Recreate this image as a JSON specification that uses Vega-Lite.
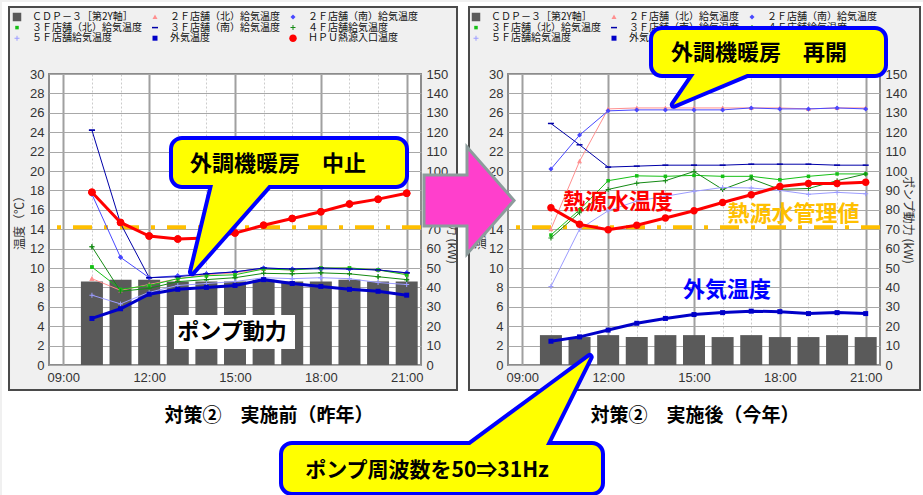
{
"$schema": "https://vega.github.io/schema/vega-lite/v6.json",
"padding": 0,
"background": "#f0f0f0",
"config": {
  "view": {"fill": "#ffffff", "stroke": "#8c8c8c", "strokeWidth": 2},
  "scale": {"continuousPadding": 0},
  "font": "Noto Sans CJK JP",
  "axis": {"labelFont": "Liberation Sans Narrow, Liberation Sans, sans-serif", "labelFontSize": 13, "labelColor": "#333333", "ticks": false, "domain": false, "labelFlush": false, "labelOverlap": false, "titleFont": "Noto Sans CJK JP", "titleFontWeight": "normal", "titleFontSize": 12, "titleColor": "#333333"},
  "legend": {"labelFont": "Noto Sans CJK JP", "labelFontSize": 10, "labelColor": "#111111", "symbolSize": 100, "symbolStrokeWidth": 0, "padding": 0, "labelLimit": 200}
},
"datasets": {
  "L": [
    {"h":10,"kw":43,"２Ｆ店舗（北）給気温度":8.9,"２Ｆ店舗（南）給気温度":17.6,"３Ｆ店舗（北）給気温度":10.1,"３Ｆ店舗（南）給気温度":24.2,"４Ｆ店舗給気温度":12.2,"５Ｆ店舗給気温度":7.2,"外気温度":4.8,"ＨＰＵ熱源入口温度":17.8},
    {"h":11,"kw":44,"２Ｆ店舗（北）給気温度":7.7,"２Ｆ店舗（南）給気温度":11.1,"３Ｆ店舗（北）給気温度":7.8,"３Ｆ店舗（南）給気温度":14.6,"４Ｆ店舗給気温度":7.6,"５Ｆ店舗給気温度":6.3,"外気温度":5.8,"ＨＰＵ熱源入口温度":14.7},
    {"h":12,"kw":44,"２Ｆ店舗（北）給気温度":8.3,"２Ｆ店舗（南）給気温度":9.0,"３Ｆ店舗（北）給気温度":8.2,"３Ｆ店舗（南）給気温度":9.0,"４Ｆ店舗給気温度":7.9,"５Ｆ店舗給気温度":7.5,"外気温度":7.3,"ＨＰＵ熱源入口温度":13.3},
    {"h":13,"kw":43,"２Ｆ店舗（北）給気温度":8.9,"２Ｆ店舗（南）給気温度":9.2,"３Ｆ店舗（北）給気温度":8.9,"３Ｆ店舗（南）給気温度":9.1,"４Ｆ店舗給気温度":8.6,"５Ｆ店舗給気温度":8.2,"外気温度":7.8,"ＨＰＵ熱源入口温度":13.0},
    {"h":14,"kw":43,"２Ｆ店舗（北）給気温度":9.3,"２Ｆ店舗（南）給気温度":9.4,"３Ｆ店舗（北）給気温度":9.2,"３Ｆ店舗（南）給気温度":9.4,"４Ｆ店舗給気温度":8.8,"５Ｆ店舗給気温度":8.4,"外気温度":8.0,"ＨＰＵ熱源入口温度":13.1},
    {"h":15,"kw":43,"２Ｆ店舗（北）給気温度":9.5,"２Ｆ店舗（南）給気温度":9.6,"３Ｆ店舗（北）給気温度":9.3,"３Ｆ店舗（南）給気温度":9.6,"４Ｆ店舗給気温度":9.0,"５Ｆ店舗給気温度":8.6,"外気温度":8.2,"ＨＰＵ熱源入口温度":13.6},
    {"h":16,"kw":44,"２Ｆ店舗（北）給気温度":9.9,"２Ｆ店舗（南）給気温度":10.0,"３Ｆ店舗（北）給気温度":9.9,"３Ｆ店舗（南）給気温度":10.0,"４Ｆ店舗給気温度":9.45,"５Ｆ店舗給気温度":9.0,"外気温度":8.8,"ＨＰＵ熱源入口温度":14.4},
    {"h":17,"kw":43,"２Ｆ店舗（北）給気温度":9.8,"２Ｆ店舗（南）給気温度":9.9,"３Ｆ店舗（北）給気温度":9.8,"３Ｆ店舗（南）給気温度":9.9,"４Ｆ店舗給気温度":9.4,"５Ｆ店舗給気温度":8.9,"外気温度":8.4,"ＨＰＵ熱源入口温度":15.1},
    {"h":18,"kw":43,"２Ｆ店舗（北）給気温度":10.0,"２Ｆ店舗（南）給気温度":9.9,"３Ｆ店舗（北）給気温度":10.0,"３Ｆ店舗（南）給気温度":10.0,"４Ｆ店舗給気温度":9.5,"５Ｆ店舗給気温度":9.0,"外気温度":8.1,"ＨＰＵ熱源入口温度":15.8},
    {"h":19,"kw":44,"２Ｆ店舗（北）給気温度":10.0,"２Ｆ店舗（南）給気温度":9.9,"３Ｆ店舗（北）給気温度":10.0,"３Ｆ店舗（南）給気温度":9.9,"４Ｆ店舗給気温度":9.4,"５Ｆ店舗給気温度":8.9,"外気温度":7.8,"ＨＰＵ熱源入口温度":16.6},
    {"h":20,"kw":43,"２Ｆ店舗（北）給気温度":9.8,"２Ｆ店舗（南）給気温度":9.8,"３Ｆ店舗（北）給気温度":9.8,"３Ｆ店舗（南）給気温度":9.8,"４Ｆ店舗給気温度":9.1,"５Ｆ店舗給気温度":8.5,"外気温度":7.6,"ＨＰＵ熱源入口温度":17.1},
    {"h":21,"kw":43,"２Ｆ店舗（北）給気温度":9.4,"２Ｆ店舗（南）給気温度":9.5,"３Ｆ店舗（北）給気温度":9.3,"３Ｆ店舗（南）給気温度":9.5,"４Ｆ店舗給気温度":8.8,"５Ｆ店舗給気温度":8.3,"外気温度":7.2,"ＨＰＵ熱源入口温度":17.7}
  ],
  "R": [
    {"h":10,"kw":15.4,"２Ｆ店舗（北）給気温度":14.0,"２Ｆ店舗（南）給気温度":20.2,"３Ｆ店舗（北）給気温度":13.4,"３Ｆ店舗（南）給気温度":24.9,"４Ｆ店舗給気温度":13.1,"５Ｆ店舗給気温度":8.1,"外気温度":2.45,"ＨＰＵ熱源入口温度":16.2},
    {"h":11,"kw":14.4,"２Ｆ店舗（北）給気温度":21.0,"２Ｆ店舗（南）給気温度":23.7,"３Ｆ店舗（北）給気温度":16.0,"３Ｆ店舗（南）給気温度":22.7,"４Ｆ店舗給気温度":15.7,"５Ｆ店舗給気温度":14.0,"外気温度":2.9,"ＨＰＵ熱源入口温度":14.5},
    {"h":12,"kw":15.4,"２Ｆ店舗（北）給気温度":26.4,"２Ｆ店舗（南）給気温度":26.2,"３Ｆ店舗（北）給気温度":19.0,"３Ｆ店舗（南）給気温度":20.4,"４Ｆ店舗給気温度":18.1,"５Ｆ店舗給気温度":15.9,"外気温度":3.6,"ＨＰＵ熱源入口温度":13.95},
    {"h":13,"kw":14.4,"２Ｆ店舗（北）給気温度":26.5,"２Ｆ店舗（南）給気温度":26.3,"３Ｆ店舗（北）給気温度":19.5,"３Ｆ店舗（南）給気温度":20.5,"４Ｆ店舗給気温度":18.75,"５Ｆ店舗給気温度":16.9,"外気温度":4.3,"ＨＰＵ熱源入口温度":14.4},
    {"h":14,"kw":15.4,"２Ｆ店舗（北）給気温度":26.5,"２Ｆ店舗（南）給気温度":26.3,"３Ｆ店舗（北）給気温度":19.45,"３Ｆ店舗（南）給気温度":20.6,"４Ｆ店舗給気温度":19.0,"５Ｆ店舗給気温度":17.4,"外気温度":4.8,"ＨＰＵ熱源入口温度":15.15},
    {"h":15,"kw":15.4,"２Ｆ店舗（北）給気温度":26.5,"２Ｆ店舗（南）給気温度":26.3,"３Ｆ店舗（北）給気温度":19.55,"３Ｆ店舗（南）給気温度":20.6,"４Ｆ店舗給気温度":19.95,"５Ｆ店舗給気温度":17.9,"外気温度":5.2,"ＨＰＵ熱源入口温度":15.9},
    {"h":16,"kw":14.4,"２Ｆ店舗（北）給気温度":26.5,"２Ｆ店舗（南）給気温度":26.3,"３Ｆ店舗（北）給気温度":19.45,"３Ｆ店舗（南）給気温度":20.6,"４Ｆ店舗給気温度":18.1,"５Ｆ店舗給気温度":18.3,"外気温度":5.4,"ＨＰＵ熱源入口温度":16.75},
    {"h":17,"kw":15.4,"２Ｆ店舗（北）給気温度":26.5,"２Ｆ店舗（南）給気温度":26.5,"３Ｆ店舗（北）給気温度":19.45,"３Ｆ店舗（南）給気温度":20.7,"４Ｆ店舗給気温度":19.2,"５Ｆ店舗給気温度":18.25,"外気温度":5.55,"ＨＰＵ熱源入口温度":17.55},
    {"h":18,"kw":14.4,"２Ｆ店舗（北）給気温度":26.5,"２Ｆ店舗（南）給気温度":26.4,"３Ｆ店舗（北）給気温度":19.1,"３Ｆ店舗（南）給気温度":20.7,"４Ｆ店舗給気温度":18.1,"５Ｆ店舗給気温度":18.0,"外気温度":5.5,"ＨＰＵ熱源入口温度":18.4},
    {"h":19,"kw":14.4,"２Ｆ店舗（北）給気温度":26.4,"２Ｆ店舗（南）給気温度":26.4,"３Ｆ店舗（北）給気温度":19.45,"３Ｆ店舗（南）給気温度":20.7,"４Ｆ店舗給気温度":18.2,"５Ｆ店舗給気温度":17.6,"外気温度":5.3,"ＨＰＵ熱源入口温度":18.7},
    {"h":20,"kw":15.4,"２Ｆ店舗（北）給気温度":26.5,"２Ｆ店舗（南）給気温度":26.5,"３Ｆ店舗（北）給気温度":19.7,"３Ｆ店舗（南）給気温度":20.6,"４Ｆ店舗給気温度":19.0,"５Ｆ店舗給気温度":17.8,"外気温度":5.4,"ＨＰＵ熱源入口温度":18.7},
    {"h":21,"kw":14.4,"２Ｆ店舗（北）給気温度":26.5,"２Ｆ店舗（南）給気温度":26.4,"３Ｆ店舗（北）給気温度":19.7,"３Ｆ店舗（南）給気温度":20.6,"４Ｆ店舗給気温度":19.7,"５Ｆ店舗給気温度":17.65,"外気温度":5.3,"ＨＰＵ熱源入口温度":18.85}
  ]
},
"spacing": 87,
"bounds": "flush",
"resolve": {"scale": {"x": "independent", "y": "independent", "color": "independent", "shape": "independent", "stroke": "independent"}, "legend": {"color": "independent", "shape": "independent", "stroke": "independent"}},
"hconcat": [
{
  "width": 372, "height": 291,
  "resolve": {"scale": {"y": "independent", "color": "independent", "shape": "independent"}},
  "layer": [
    {
      "data": {"name": "L"},
      "transform": [{"fold": ["２Ｆ店舗（北）給気温度","２Ｆ店舗（南）給気温度","３Ｆ店舗（北）給気温度","３Ｆ店舗（南）給気温度","４Ｆ店舗給気温度","５Ｆ店舗給気温度","外気温度","ＨＰＵ熱源入口温度"], "as": ["s","t"]}],
      "mark": {"type": "point", "filled": true, "opacity": 1, "size": 100},
      "encoding": {
        "x": {"field": "h", "type": "quantitative", "scale": {"domain": [8.5, 21.5], "nice": false, "zero": false, "padding": 0}},
        "y": {"field": "t", "type": "quantitative", "scale": {"domain": [0, 30], "nice": false, "zero": false}, "axis": null},
        "color": {"field": "s", "type": "nominal",
          "scale": {"domain": ["ＣＤＰ－３［第2Y軸］","２Ｆ店舗（北）給気温度","２Ｆ店舗（南）給気温度","３Ｆ店舗（北）給気温度","３Ｆ店舗（南）給気温度","４Ｆ店舗給気温度","５Ｆ店舗給気温度","外気温度","ＨＰＵ熱源入口温度"], "range": ["#5a5a5a","#ff8f8f","#4848ff","#16c016","#0000a8","#148a14","#9c9cff","#0000c8","#ff0000"]},
          "legend": {"title": null, "orient": "none", "legendX": 422, "legendY": -62, "columns": 3, "direction": "horizontal", "gridAlign": "all", "columnPadding": 8, "rowPadding": 0.6, "labelOffset": 10}},
        "shape": {"field": "s", "type": "nominal",
          "scale": {"domain": ["ＣＤＰ－３［第2Y軸］","２Ｆ店舗（北）給気温度","２Ｆ店舗（南）給気温度","３Ｆ店舗（北）給気温度","３Ｆ店舗（南）給気温度","４Ｆ店舗給気温度","５Ｆ店舗給気温度","外気温度","ＨＰＵ熱源入口温度"], "range": ["M-0.85,-0.85H0.85V0.85H-0.85Z","M0,-0.5L0.5,0.4H-0.5Z","M0,-0.5L0.5,0L0,0.5L-0.5,0Z","M-0.35,-0.35H0.35V0.35H-0.35Z","M-0.6,-0.15H0.6V0.15H-0.6Z","M-0.5,-0.1H-0.1V-0.5H0.1V-0.1H0.5V0.1H0.1V0.5H-0.1V0.1H-0.5Z","M-0.5,-0.1H-0.1V-0.5H0.1V-0.1H0.5V0.1H0.1V0.5H-0.1V0.1H-0.5Z","M-0.5,-0.5H0.5V0.5H-0.5Z","M-0.75,0A0.75,0.75 0 1,0 0.75,0A0.75,0.75 0 1,0 -0.75,0Z"]}}
      }
    },
    {
      "data": {"name": "L"},
      "mark": {"type": "bar", "size": 22, "color": "#5a5a5a"},
      "encoding": {
        "x": {"field": "h", "type": "quantitative", "scale": {"domain": [8.5, 21.5], "nice": false, "zero": false, "padding": 0},
          "axis": {"values": [9,10,11,12,13,14,15,16,17,18,19,20,21], "tickCount": 40, "title": null, "labelOverlap": false, "labelExpr": "datum.value % 3 === 0 ? ((datum.value < 10 ? '0' : '') + datum.value + ':00') : ''", "grid": true, "gridColor": {"condition": {"test": "datum.value % 3 === 0", "value": "#a0a0a0"}, "value": "#cccccc"}, "gridWidth": {"condition": {"test": "datum.value % 3 === 0", "value": 2}, "value": 1}, "gridDash": {"condition": {"test": "datum.value % 3 === 0", "value": [1, 0]}, "value": [2, 2]}, "labelPadding": 6}},
        "y": {"field": "kw", "type": "quantitative", "scale": {"domain": [0, 150], "nice": false, "zero": true},
          "axis": {"orient": "right", "values": [0,10,20,30,40,50,60,70,80,90,100,110,120,130,140,150], "tickCount": 40, "labelOverlap": false, "title": "ポンプ動力 (kW)", "grid": false, "labelPadding": 5, "titleAngle": 90, "titleX": 30, "titleY": 145.5, "titleAlign": "center", "titleBaseline": "middle"}}
      }
    },
    {
      "layer": [
        {
          "data": {"values": [{"t": 14.2}]},
          "mark": {"type": "rule", "color": "#ffbf00", "strokeWidth": 4, "strokeDash": [19, 12, 4, 12]},
          "encoding": {"y": {"field": "t", "type": "quantitative", "scale": {"domain": [0, 30], "nice": false, "zero": false},
            "axis": {"values": [0,2,4,6,8,10,12,14,16,18,20,22,24,26,28,30], "tickCount": 40, "labelOverlap": false, "title": "温度（℃）", "grid": true, "gridColor": "#a8a8a8", "gridWidth": 1, "labelPadding": 5, "titleAngle": -90, "titleX": -29.5, "titleY": 145.5, "titleAlign": "center", "titleBaseline": "middle"}}}
        },
        {
          "data": {"name": "L"},
          "transform": [{"fold": ["２Ｆ店舗（北）給気温度","２Ｆ店舗（南）給気温度","３Ｆ店舗（北）給気温度","３Ｆ店舗（南）給気温度","４Ｆ店舗給気温度","５Ｆ店舗給気温度","外気温度","ＨＰＵ熱源入口温度"], "as": ["s","t"]},
            {"filter": {"field": "s", "oneOf": ["２Ｆ店舗（北）給気温度","２Ｆ店舗（南）給気温度","３Ｆ店舗（北）給気温度","３Ｆ店舗（南）給気温度","４Ｆ店舗給気温度","５Ｆ店舗給気温度"]}}],
          "mark": {"type": "line", "strokeWidth": 1},
          "encoding": {
            "x": {"field": "h", "type": "quantitative", "scale": {"domain": [8.5, 21.5], "nice": false, "zero": false, "padding": 0}},
            "y": {"field": "t", "type": "quantitative", "scale": {"domain": [0, 30], "nice": false, "zero": false}},
            "stroke": {"field": "s", "type": "nominal", "legend": null,
              "scale": {"domain": ["ＣＤＰ－３［第2Y軸］","２Ｆ店舗（北）給気温度","２Ｆ店舗（南）給気温度","３Ｆ店舗（北）給気温度","３Ｆ店舗（南）給気温度","４Ｆ店舗給気温度","５Ｆ店舗給気温度","外気温度","ＨＰＵ熱源入口温度"], "range": ["#5a5a5a","#ff8f8f","#4848ff","#16c016","#0000a8","#148a14","#9c9cff","#0000c8","#ff0000"]}}
          }
        },
        {
          "data": {"name": "L"},
          "transform": [{"fold": ["外気温度","ＨＰＵ熱源入口温度"], "as": ["s","t"]}],
          "mark": {"type": "line", "strokeWidth": 3},
          "encoding": {
            "x": {"field": "h", "type": "quantitative"},
            "y": {"field": "t", "type": "quantitative"},
            "stroke": {"field": "s", "type": "nominal", "legend": null}
          }
        },
        {
          "data": {"name": "L"},
          "transform": [{"fold": ["２Ｆ店舗（北）給気温度","２Ｆ店舗（南）給気温度","３Ｆ店舗（北）給気温度","３Ｆ店舗（南）給気温度","４Ｆ店舗給気温度","５Ｆ店舗給気温度","外気温度","ＨＰＵ熱源入口温度"], "as": ["s","t"]}],
          "mark": {"type": "point", "filled": true, "opacity": 1, "size": 100},
          "encoding": {
            "x": {"field": "h", "type": "quantitative"},
            "y": {"field": "t", "type": "quantitative"},
            "color": {"field": "s", "type": "nominal",
              "scale": {"domain": ["ＣＤＰ－３［第2Y軸］","２Ｆ店舗（北）給気温度","２Ｆ店舗（南）給気温度","３Ｆ店舗（北）給気温度","３Ｆ店舗（南）給気温度","４Ｆ店舗給気温度","５Ｆ店舗給気温度","外気温度","ＨＰＵ熱源入口温度"], "range": ["#5a5a5a","#ff8f8f","#4848ff","#16c016","#0000a8","#148a14","#9c9cff","#0000c8","#ff0000"]},
              "legend": {"title": null, "orient": "none", "legendX": -37, "legendY": -62, "columns": 3, "direction": "horizontal", "gridAlign": "all", "columnPadding": 8, "rowPadding": 0.6, "labelOffset": 10}},
            "shape": {"field": "s", "type": "nominal",
              "scale": {"domain": ["ＣＤＰ－３［第2Y軸］","２Ｆ店舗（北）給気温度","２Ｆ店舗（南）給気温度","３Ｆ店舗（北）給気温度","３Ｆ店舗（南）給気温度","４Ｆ店舗給気温度","５Ｆ店舗給気温度","外気温度","ＨＰＵ熱源入口温度"], "range": ["M-0.85,-0.85H0.85V0.85H-0.85Z","M0,-0.5L0.5,0.4H-0.5Z","M0,-0.5L0.5,0L0,0.5L-0.5,0Z","M-0.35,-0.35H0.35V0.35H-0.35Z","M-0.6,-0.15H0.6V0.15H-0.6Z","M-0.5,-0.1H-0.1V-0.5H0.1V-0.1H0.5V0.1H0.1V0.5H-0.1V0.1H-0.5Z","M-0.5,-0.1H-0.1V-0.5H0.1V-0.1H0.5V0.1H0.1V0.5H-0.1V0.1H-0.5Z","M-0.5,-0.5H0.5V0.5H-0.5Z","M-0.75,0A0.75,0.75 0 1,0 0.75,0A0.75,0.75 0 1,0 -0.75,0Z"]}}
          }
        },
        {
          "data": {"values": [{}]},
          "mark": {"type": "rect", "color": "#ffffff"},
          "encoding": {"x": {"datum": 12.868}, "x2": {"datum": 17.097}, "y": {"datum": 5.155}, "y2": {"datum": 1.649}}
        },
        {
          "data": {"values": [{}]},
          "mark": {"type": "text", "text": "ポンプ動力", "fontSize": 22, "fontWeight": "bold", "color": "#000000"},
          "encoding": {"x": {"datum": 14.895}, "y": {"datum": 3.402}}
        },
        {
          "data": {"values": [{}]},
          "mark": {"type": "rect", "filled": false, "color": "#0000ff", "strokeWidth": 8, "cornerRadius": 9},
          "encoding": {"x": {"datum": 12.833}, "x2": {"datum": 20.941}, "y": {"datum": 23.196}, "y2": {"datum": 18.557}}
        },
        {
          "data": {"values": [{"x": 13.497, "y": 9.588, "y2": 9.588}, {"x": 14.231, "y": 18.557, "y2": 12.044}, {"x": 16.178, "y": 18.557, "y2": 18.557}]},
          "mark": {"type": "area", "filled": false, "color": "#0000ff", "strokeWidth": 8, "strokeJoin": "round"},
          "encoding": {"x": {"field": "x", "type": "quantitative"}, "y": {"field": "y", "type": "quantitative"}, "y2": {"field": "y2"}}
        },
        {
          "data": {"values": [{}]},
          "mark": {"type": "rect", "color": "#ffff00", "cornerRadius": 9},
          "encoding": {"x": {"datum": 12.833}, "x2": {"datum": 20.941}, "y": {"datum": 23.196}, "y2": {"datum": 18.557}}
        },
        {
          "data": {"values": [{"x": 13.497, "y": 9.588, "y2": 9.588}, {"x": 14.231, "y": 18.557, "y2": 12.044}, {"x": 16.178, "y": 18.557, "y2": 18.557}]},
          "mark": {"type": "area", "color": "#ffff00"},
          "encoding": {"x": {"field": "x", "type": "quantitative"}, "y": {"field": "y", "type": "quantitative"}, "y2": {"field": "y2"}}
        },
        {
          "data": {"values": [{}]},
          "mark": {"type": "text", "text": "外調機暖房　中止", "fontSize": 22, "fontWeight": "bold", "color": "#000000"},
          "encoding": {"x": {"datum": 16.503}, "y": {"datum": 20.722}}
        }
      ]
    }
  ]
},
{
  "width": 372, "height": 291,
  "resolve": {"scale": {"y": "independent"}},
  "layer": [
    {
      "data": {"name": "R"},
      "mark": {"type": "bar", "size": 22, "color": "#5a5a5a"},
      "encoding": {
        "x": {"field": "h", "type": "quantitative", "scale": {"domain": [8.5, 21.5], "nice": false, "zero": false, "padding": 0},
          "axis": {"values": [9,10,11,12,13,14,15,16,17,18,19,20,21], "tickCount": 40, "title": null, "labelOverlap": false, "labelExpr": "datum.value % 3 === 0 ? ((datum.value < 10 ? '0' : '') + datum.value + ':00') : ''", "grid": true, "gridColor": {"condition": {"test": "datum.value % 3 === 0", "value": "#a0a0a0"}, "value": "#cccccc"}, "gridWidth": {"condition": {"test": "datum.value % 3 === 0", "value": 2}, "value": 1}, "gridDash": {"condition": {"test": "datum.value % 3 === 0", "value": [1, 0]}, "value": [2, 2]}, "labelPadding": 6}},
        "y": {"field": "kw", "type": "quantitative", "scale": {"domain": [0, 150], "nice": false, "zero": true},
          "axis": {"orient": "right", "values": [0,10,20,30,40,50,60,70,80,90,100,110,120,130,140,150], "tickCount": 40, "labelOverlap": false, "title": "ポンプ動力 (kW)", "grid": false, "labelPadding": 5, "titleAngle": 90, "titleX": 27, "titleY": 145.5, "titleAlign": "center", "titleBaseline": "middle"}}
      }
    },
    {
      "layer": [
        {"data": {"values": [{}]}, "mark": {"type": "rect", "color": "#ffffff"},
          "encoding": {"x": {"datum": -9.183}, "x2": {"datum": 23.073}, "y": {"datum": 37.423}, "y2": {"datum": 36.907}}},
        {"data": {"values": [{}]}, "mark": {"type": "rect", "color": "#ffffff"},
          "encoding": {"x": {"datum": -9.183}, "x2": {"datum": 23.073}, "y": {"datum": -2.577}, "y2": {"datum": -13.608}}},
        {"data": {"values": [{}]}, "mark": {"type": "rect", "color": "#ffffff"},
          "encoding": {"x": {"datum": -9.183}, "x2": {"datum": -8.938}, "y": {"datum": 37.423}, "y2": {"datum": -13.608}}},
        {"data": {"values": [{}]}, "mark": {"type": "rect", "color": "#ffffff"},
          "encoding": {"x": {"datum": 22.898}, "x2": {"datum": 23.073}, "y": {"datum": 37.423}, "y2": {"datum": -13.608}}},
        {"data": {"values": [{}]}, "mark": {"type": "rect", "color": "#ffffff"},
          "encoding": {"x": {"datum": 6.718}, "x2": {"datum": 7.137}, "y": {"datum": 36.907}, "y2": {"datum": -2.577}}},
        {"data": {"values": [{}]}, "mark": {"type": "rect", "filled": false, "color": "#4a4a4a", "strokeWidth": 2},
          "encoding": {"x": {"datum": -8.938}, "x2": {"datum": 6.718}, "y": {"datum": 36.907}, "y2": {"datum": -2.577}}},
        {"data": {"values": [{}]}, "mark": {"type": "rect", "filled": false, "color": "#4a4a4a", "strokeWidth": 2},
          "encoding": {"x": {"datum": 7.137}, "x2": {"datum": 22.898}, "y": {"datum": 36.907}, "y2": {"datum": -2.577}}},
        {
          "data": {"values": [{"t": 14.2}]},
          "mark": {"type": "rule", "color": "#ffbf00", "strokeWidth": 4, "strokeDash": [19, 12, 4, 12]},
          "encoding": {"y": {"field": "t", "type": "quantitative", "scale": {"domain": [0, 30], "nice": false, "zero": false},
            "axis": {"values": [0,2,4,6,8,10,12,14,16,18,20,22,24,26,28,30], "tickCount": 40, "labelOverlap": false, "title": "温度（℃）", "grid": true, "gridColor": "#a8a8a8", "gridWidth": 1, "labelPadding": 5, "titleAngle": -90, "titleX": -28, "titleY": 145.5, "titleAlign": "center", "titleBaseline": "middle"}}}
        },
        {
          "data": {"name": "R"},
          "transform": [{"fold": ["２Ｆ店舗（北）給気温度","２Ｆ店舗（南）給気温度","３Ｆ店舗（北）給気温度","３Ｆ店舗（南）給気温度","４Ｆ店舗給気温度","５Ｆ店舗給気温度","外気温度","ＨＰＵ熱源入口温度"], "as": ["s","t"]},
            {"filter": {"field": "s", "oneOf": ["２Ｆ店舗（北）給気温度","２Ｆ店舗（南）給気温度","３Ｆ店舗（北）給気温度","３Ｆ店舗（南）給気温度","４Ｆ店舗給気温度","５Ｆ店舗給気温度"]}}],
          "mark": {"type": "line", "strokeWidth": 1},
          "encoding": {
            "x": {"field": "h", "type": "quantitative", "scale": {"domain": [8.5, 21.5], "nice": false, "zero": false, "padding": 0}},
            "y": {"field": "t", "type": "quantitative", "scale": {"domain": [0, 30], "nice": false, "zero": false}},
            "stroke": {"field": "s", "type": "nominal", "legend": null,
              "scale": {"domain": ["ＣＤＰ－３［第2Y軸］","２Ｆ店舗（北）給気温度","２Ｆ店舗（南）給気温度","３Ｆ店舗（北）給気温度","３Ｆ店舗（南）給気温度","４Ｆ店舗給気温度","５Ｆ店舗給気温度","外気温度","ＨＰＵ熱源入口温度"], "range": ["#5a5a5a","#ff8f8f","#4848ff","#16c016","#0000a8","#148a14","#9c9cff","#0000c8","#ff0000"]}}
          }
        },
        {
          "data": {"name": "R"},
          "transform": [{"fold": ["外気温度","ＨＰＵ熱源入口温度"], "as": ["s","t"]}],
          "mark": {"type": "line", "strokeWidth": 3},
          "encoding": {
            "x": {"field": "h", "type": "quantitative"},
            "y": {"field": "t", "type": "quantitative"},
            "stroke": {"field": "s", "type": "nominal", "legend": null}
          }
        },
        {
          "data": {"name": "R"},
          "transform": [{"fold": ["２Ｆ店舗（北）給気温度","２Ｆ店舗（南）給気温度","３Ｆ店舗（北）給気温度","３Ｆ店舗（南）給気温度","４Ｆ店舗給気温度","５Ｆ店舗給気温度","外気温度","ＨＰＵ熱源入口温度"], "as": ["s","t"]}],
          "mark": {"type": "point", "filled": true, "opacity": 1, "size": 100},
          "encoding": {
            "x": {"field": "h", "type": "quantitative"},
            "y": {"field": "t", "type": "quantitative"},
            "color": {"field": "s", "type": "nominal", "legend": null,
              "scale": {"domain": ["ＣＤＰ－３［第2Y軸］","２Ｆ店舗（北）給気温度","２Ｆ店舗（南）給気温度","３Ｆ店舗（北）給気温度","３Ｆ店舗（南）給気温度","４Ｆ店舗給気温度","５Ｆ店舗給気温度","外気温度","ＨＰＵ熱源入口温度"], "range": ["#5a5a5a","#ff8f8f","#4848ff","#16c016","#0000a8","#148a14","#9c9cff","#0000c8","#ff0000"]}},
            "shape": {"field": "s", "type": "nominal", "legend": null,
              "scale": {"domain": ["ＣＤＰ－３［第2Y軸］","２Ｆ店舗（北）給気温度","２Ｆ店舗（南）給気温度","３Ｆ店舗（北）給気温度","３Ｆ店舗（南）給気温度","４Ｆ店舗給気温度","５Ｆ店舗給気温度","外気温度","ＨＰＵ熱源入口温度"], "range": ["M-0.85,-0.85H0.85V0.85H-0.85Z","M0,-0.5L0.5,0.4H-0.5Z","M0,-0.5L0.5,0L0,0.5L-0.5,0Z","M-0.35,-0.35H0.35V0.35H-0.35Z","M-0.6,-0.15H0.6V0.15H-0.6Z","M-0.5,-0.1H-0.1V-0.5H0.1V-0.1H0.5V0.1H0.1V0.5H-0.1V0.1H-0.5Z","M-0.5,-0.1H-0.1V-0.5H0.1V-0.1H0.5V0.1H0.1V0.5H-0.1V0.1H-0.5Z","M-0.5,-0.5H0.5V0.5H-0.5Z","M-0.75,0A0.75,0.75 0 1,0 0.75,0A0.75,0.75 0 1,0 -0.75,0Z"]}}
          }
        },
        {"data": {"values": [{}]}, "mark": {"type": "text", "text": "熱源水温度", "fontSize": 22, "fontWeight": "bold", "color": "#ff0000"},
          "encoding": {"x": {"datum": 12.344}, "y": {"datum": 16.804}}},
        {"data": {"values": [{}]}, "mark": {"type": "text", "text": "熱源水管理値", "fontSize": 22, "fontWeight": "bold", "color": "#ffc000"},
          "encoding": {"x": {"datum": 18.477}, "y": {"datum": 15.567}}},
        {"data": {"values": [{}]}, "mark": {"type": "text", "text": "外気温度", "fontSize": 22, "fontWeight": "bold", "color": "#0000ff"},
          "encoding": {"x": {"datum": 16.153}, "y": {"datum": 7.732}}},
        {"data": {"values": [{}]}, "mark": {"type": "rect", "filled": false, "color": "#0000ff", "strokeWidth": 8, "cornerRadius": 9},
          "encoding": {"x": {"datum": 13.567}, "x2": {"datum": 21.64}, "y": {"datum": 34.536}, "y2": {"datum": 30.0}}},
        {
          "data": {"values": [{"x": 14.291, "y": 26.835, "y2": 26.835}, {"x": 15.025, "y": 30.0, "y2": 27.742}, {"x": 16.852, "y": 30.0, "y2": 30.0}]},
          "mark": {"type": "area", "filled": false, "color": "#0000ff", "strokeWidth": 8, "strokeJoin": "round"},
          "encoding": {"x": {"field": "x", "type": "quantitative"}, "y": {"field": "y", "type": "quantitative"}, "y2": {"field": "y2"}}
        },
        {"data": {"values": [{}]}, "mark": {"type": "rect", "color": "#ffff00", "cornerRadius": 9},
          "encoding": {"x": {"datum": 13.567}, "x2": {"datum": 21.64}, "y": {"datum": 34.536}, "y2": {"datum": 30.0}}},
        {
          "data": {"values": [{"x": 14.291, "y": 26.835, "y2": 26.835}, {"x": 15.025, "y": 30.0, "y2": 27.742}, {"x": 16.852, "y": 30.0, "y2": 30.0}]},
          "mark": {"type": "area", "color": "#ffff00"},
          "encoding": {"x": {"field": "x", "type": "quantitative"}, "y": {"field": "y", "type": "quantitative"}, "y2": {"field": "y2"}}
        },
        {"data": {"values": [{}]}, "mark": {"type": "text", "text": "外調機暖房　再開", "fontSize": 22, "fontWeight": "bold", "color": "#000000"},
          "encoding": {"x": {"datum": 17.272}, "y": {"datum": 32.165}}},
        {"data": {"values": [{}]}, "mark": {"type": "point", "shape": "M-0.824,-0.472L-0.028,-0.472L-0.028,-0.991L0.843,0L-0.028,0.991L-0.028,0.472L-0.824,0.472Z", "size": 11664, "filled": true, "fill": "#ff3fcc", "stroke": "#8c9c9c", "strokeWidth": 3, "opacity": 1},
          "encoding": {"x": {"datum": 7.12}, "y": {"datum": 16.959}}},
        {"data": {"values": [{}]}, "mark": {"type": "rect", "filled": false, "color": "#0000ff", "strokeWidth": 8, "cornerRadius": 9},
          "encoding": {"x": {"datum": 0.637}, "x2": {"datum": 11.75}, "y": {"datum": -8.247}, "y2": {"datum": -13.093}}},
        {
          "data": {"values": [{"x": 7.172, "y": -8.247, "y2": -8.247}, {"x": 9.828, "y": -2.486, "y2": -8.247}, {"x": 11.355, "y": 0.825, "y2": 0.825}]},
          "mark": {"type": "area", "filled": false, "color": "#0000ff", "strokeWidth": 8, "strokeJoin": "round"},
          "encoding": {"x": {"field": "x", "type": "quantitative"}, "y": {"field": "y", "type": "quantitative"}, "y2": {"field": "y2"}}
        },
        {"data": {"values": [{}]}, "mark": {"type": "rect", "color": "#ffff00", "cornerRadius": 9},
          "encoding": {"x": {"datum": 0.637}, "x2": {"datum": 11.75}, "y": {"datum": -8.247}, "y2": {"datum": -13.093}}},
        {
          "data": {"values": [{"x": 7.172, "y": -8.247, "y2": -8.247}, {"x": 9.828, "y": -2.486, "y2": -8.247}, {"x": 11.355, "y": 0.825, "y2": 0.825}]},
          "mark": {"type": "area", "color": "#ffff00"},
          "encoding": {"x": {"field": "x", "type": "quantitative"}, "y": {"field": "y", "type": "quantitative"}, "y2": {"field": "y2"}}
        },
        {"data": {"values": [{}]}, "mark": {"type": "text", "text": "ポンプ周波数を50⇒31Hz", "fontSize": 21, "fontWeight": "bold", "color": "#000000"},
          "encoding": {"x": {"datum": 5.669}, "y": {"datum": -10.928}}},
        {"data": {"values": [{}]}, "mark": {"type": "text", "text": "対策②　実施前（昨年）", "fontSize": 19, "fontWeight": "bold", "color": "#000000"},
          "encoding": {"x": {"datum": 0.148}, "y": {"datum": -5.258}}},
        {"data": {"values": [{}]}, "mark": {"type": "text", "text": "対策②　実施後（今年）", "fontSize": 19, "fontWeight": "bold", "color": "#000000"},
          "encoding": {"x": {"datum": 15.035}, "y": {"datum": -5.258}}}
      ]
    }
  ]
}
]
}
